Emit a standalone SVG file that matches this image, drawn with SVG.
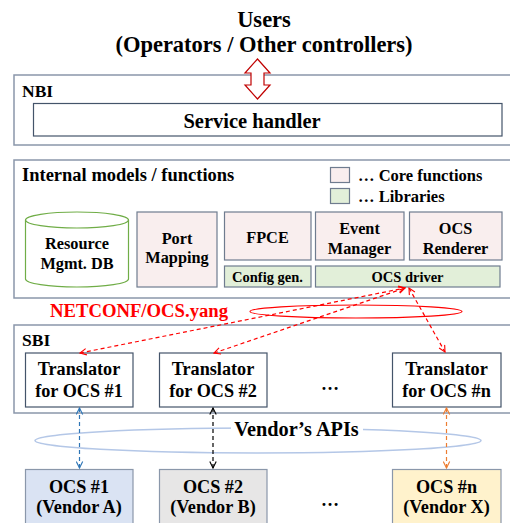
<svg xmlns="http://www.w3.org/2000/svg" width="510" height="523" viewBox="0 0 510 523" font-family="Liberation Serif, DejaVu Serif, serif">
<defs>
<style>
text{font-family:'Liberation Serif', serif;font-weight:bold;fill:#000}
.c{text-anchor:middle}
.outer{fill:#fff;stroke:#8a97aa;stroke-width:1.5}
.inner{fill:#fff;stroke:#44546a;stroke-width:1.2}
.core{fill:#f9eeee;stroke:#6f7c8f;stroke-width:1.2}
.lib{fill:#e2efd9;stroke:#6f7c8f;stroke-width:1.2}
.red{stroke:#ff0000;stroke-width:1.2;stroke-dasharray:4 3;fill:none}
</style>
<marker id="ar" viewBox="0 0 10 10" refX="9" refY="5" markerWidth="8" markerHeight="8" orient="auto-start-reverse" markerUnits="userSpaceOnUse"><path d="M1,1 L9,5 L1,9" fill="none" stroke="#ff0000" stroke-width="1.4"/></marker>
<marker id="ab" viewBox="0 0 10 10" refX="9" refY="5" markerWidth="8" markerHeight="8" orient="auto-start-reverse" markerUnits="userSpaceOnUse"><path d="M1,1 L9,5 L1,9" fill="none" stroke="#2e75b6" stroke-width="1.4"/></marker>
<marker id="ak" viewBox="0 0 10 10" refX="9" refY="5" markerWidth="8" markerHeight="8" orient="auto-start-reverse" markerUnits="userSpaceOnUse"><path d="M1,1 L9,5 L1,9" fill="none" stroke="#000" stroke-width="1.4"/></marker>
<marker id="ao" viewBox="0 0 10 10" refX="9" refY="5" markerWidth="8" markerHeight="8" orient="auto-start-reverse" markerUnits="userSpaceOnUse"><path d="M1,1 L9,5 L1,9" fill="none" stroke="#ed7d31" stroke-width="1.4"/></marker>
</defs>
<rect width="510" height="523" fill="#fff"/>

<g id="users">
<text class="c" x="264" y="27" font-size="22.5">Users</text>
<text class="c" x="264" y="52" font-size="22.5">(Operators / Other controllers)</text>
</g>

<g id="nbi">
<rect class="outer" x="14" y="75" width="500" height="70"/>
<text x="22" y="97" font-size="17.5">NBI</text>
</g>
<g id="service-handler">
<rect class="inner" x="33.5" y="103.5" width="468.5" height="32.5"/>
<text class="c" x="252" y="128" font-size="20.5">Service handler</text>
</g>

<g id="internal">
<rect class="outer" x="14" y="160" width="500" height="138"/>
<text x="22" y="181" font-size="18.5">Internal models / functions</text>
</g>
<g id="legend">
<rect class="core" x="330.5" y="167.5" width="19" height="15"/>
<text x="358" y="181" font-size="16.5">… Core functions</text>
<rect class="lib" x="330.5" y="188.5" width="19" height="15"/>
<text x="358" y="202" font-size="16.5">… Libraries</text>
</g>

<g id="resource-db">
<path d="M25.5,220 L25.5,279 A51.5,8 0 0 0 128.5,279 L128.5,220" fill="#fff" stroke="#70ad47" stroke-width="1.2"/>
<ellipse cx="77" cy="220" rx="51.5" ry="8" fill="#fff" stroke="#70ad47" stroke-width="1.2"/>
<text class="c" x="77" y="249" font-size="16.3">Resource</text>
<text class="c" x="77" y="269" font-size="16.3">Mgmt. DB</text>
</g>
<g id="port-mapping">
<rect class="core" x="137" y="212" width="80" height="75"/>
<text class="c" x="177" y="244" font-size="16.3">Port</text>
<text class="c" x="177" y="263" font-size="16.3">Mapping</text>
</g>
<g id="fpce">
<rect class="core" x="224.5" y="212" width="86.5" height="48"/>
<text class="c" x="267.5" y="243" font-size="16.3">FPCE</text>
</g>
<g id="event-manager">
<rect class="core" x="315.5" y="212" width="88.5" height="48"/>
<text class="c" x="359.5" y="234" font-size="16.3">Event</text>
<text class="c" x="359.5" y="254" font-size="16.3">Manager</text>
</g>
<g id="ocs-renderer">
<rect class="core" x="409.5" y="212" width="92.5" height="48"/>
<text class="c" x="455.5" y="234" font-size="16.3">OCS</text>
<text class="c" x="455.5" y="254" font-size="16.3">Renderer</text>
</g>
<g id="config-gen">
<rect class="lib" x="224.5" y="266" width="86.5" height="21"/>
<text class="c" x="267.5" y="282" font-size="14.5">Config gen.</text>
</g>
<g id="ocs-driver">
<rect class="lib" x="315.5" y="266" width="184.5" height="21"/>
<text class="c" x="407.5" y="282" font-size="14.5">OCS driver</text>
</g>

<g id="netconf-label">
<ellipse cx="356" cy="311.5" rx="106" ry="6.5" fill="none" stroke="#ff0000" stroke-width="1.2"/>
<text x="50" y="317" font-size="18.7" style="fill:#ff0000">NETCONF/OCS.yang</text>
</g>

<g id="sbi">
<rect class="outer" x="14" y="325" width="500" height="88"/>
<text x="22" y="346" font-size="17.5">SBI</text>
</g>
<g id="translator-1">
<rect class="inner" x="25.5" y="353" width="107.5" height="54"/>
<text class="c" x="79" y="375" font-size="18.2">Translator</text>
<text class="c" x="79" y="397" font-size="18.2">for OCS #1</text>
</g>
<g id="translator-2">
<rect class="inner" x="159.5" y="353" width="107.5" height="54"/>
<text class="c" x="213" y="375" font-size="18.2">Translator</text>
<text class="c" x="213" y="397" font-size="18.2">for OCS #2</text>
</g>
<text class="c" x="330" y="390" font-size="18">…</text>
<g id="translator-n">
<rect class="inner" x="392.5" y="353" width="108.5" height="54"/>
<text class="c" x="446.5" y="375" font-size="18.2">Translator</text>
<text class="c" x="446.5" y="397" font-size="18.2">for OCS #n</text>
</g>

<g id="vendor-apis">
<ellipse cx="258" cy="440.5" rx="223" ry="12.5" fill="none" stroke="#b4c7e7" stroke-width="1.5"/>
<rect x="231" y="419" width="132" height="20" fill="#fff"/>
<text class="c" x="296.5" y="436" font-size="20.3">Vendor’s APIs</text>
</g>

<g id="ocs-1">
<rect x="25.5" y="469.5" width="107.5" height="60" fill="#dae3f3" stroke="#8a97aa" stroke-width="1.2"/>
<text class="c" x="79" y="493" font-size="18.2">OCS #1</text>
<text class="c" x="79" y="513" font-size="18.2">(Vendor A)</text>
</g>
<g id="ocs-2">
<rect x="159.5" y="469.5" width="107.5" height="60" fill="#e7e6e6" stroke="#8a97aa" stroke-width="1.2"/>
<text class="c" x="213" y="493" font-size="18.2">OCS #2</text>
<text class="c" x="213" y="513" font-size="18.2">(Vendor B)</text>
</g>
<text class="c" x="330" y="506" font-size="18">…</text>
<g id="ocs-n">
<rect x="392.5" y="469.5" width="108.5" height="60" fill="#fff2cc" stroke="#8a97aa" stroke-width="1.2"/>
<text class="c" x="446.5" y="493" font-size="18.2">OCS #n</text>
<text class="c" x="446.5" y="513" font-size="18.2">(Vendor X)</text>
</g>

<g id="connectors">
<path d="M257.5,59 L270,73 L264,73 L264,85 L270,85 L257.5,99 L245,85 L251,85 L251,73 L245,73 Z" fill="#fff" stroke="#c00000" stroke-width="1.2"/>
<line class="red" x1="80" y1="353" x2="405" y2="288" marker-start="url(#ar)" marker-end="url(#ar)"/>
<line class="red" x1="214" y1="353" x2="405" y2="288" marker-start="url(#ar)" marker-end="url(#ar)"/>
<line class="red" x1="409" y1="288" x2="445" y2="352" marker-start="url(#ar)" marker-end="url(#ar)"/>
<line x1="79.5" y1="408" x2="79.5" y2="468" stroke="#2e75b6" stroke-width="1.2" stroke-dasharray="4 3" marker-start="url(#ab)" marker-end="url(#ab)"/>
<line x1="213" y1="408" x2="213" y2="468" stroke="#000" stroke-width="1.2" stroke-dasharray="4 3" marker-start="url(#ak)" marker-end="url(#ak)"/>
<line x1="446.5" y1="408" x2="446.5" y2="468" stroke="#ed7d31" stroke-width="1.2" stroke-dasharray="4 3" marker-start="url(#ao)" marker-end="url(#ao)"/>
</g>
</svg>
